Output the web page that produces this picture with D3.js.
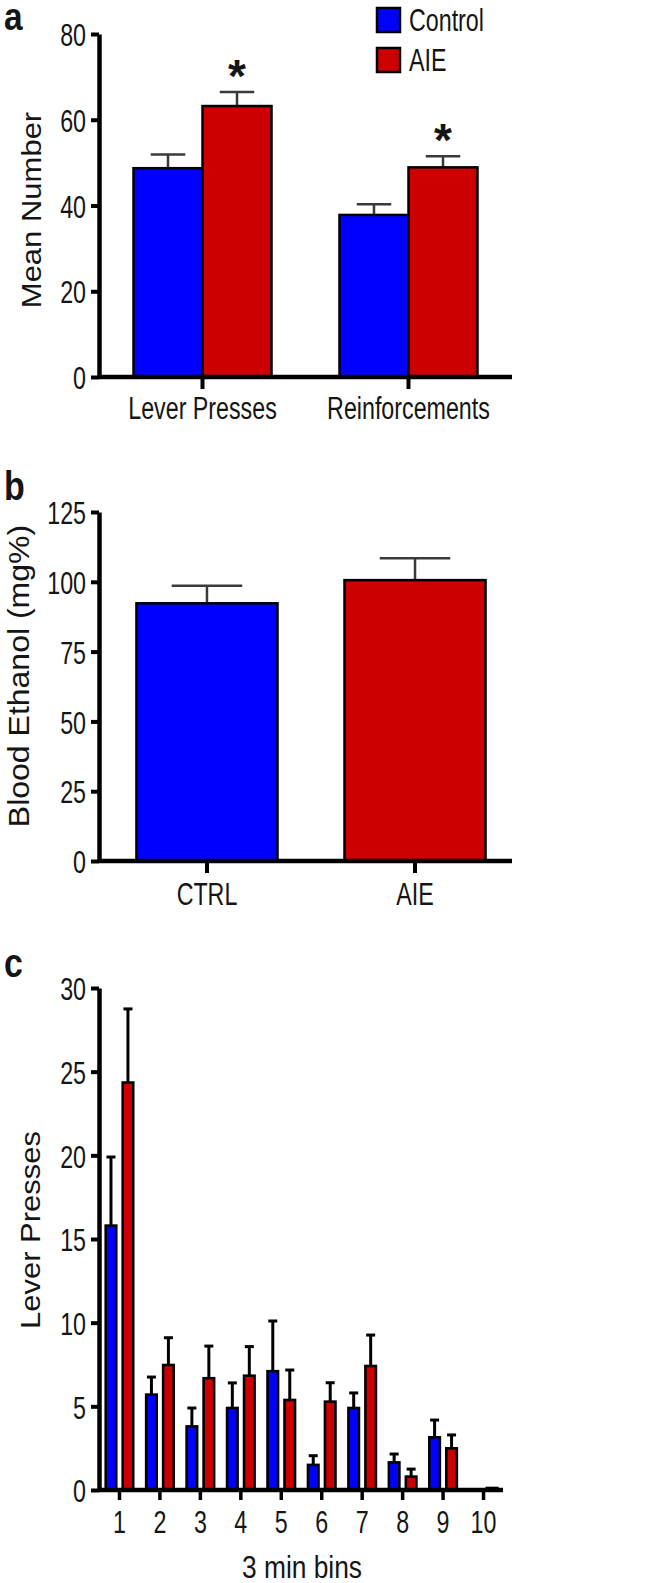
<!DOCTYPE html>
<html>
<head>
<meta charset="utf-8">
<script src="https://cdn.jsdelivr.net/npm/d3@7"></script>
<style>
  html, body { margin: 0; padding: 0; background: #fff; }
  svg { display: block; }
  text { font-family: "Liberation Sans", Arial, Helvetica, sans-serif; fill: #151515; }
</style>
</head>
<body>
<svg id="chart" width="650" height="1583"></svg>
<script>
// ---------- DATA ----------
const seriesNames = ["Control", "AIE"];
const seriesColors = ["#0000fe", "#cc0000"];

// Panel a
const aCategories = ["Lever Presses", "Reinforcements"];
const aControl = [48.7, 37.8];
const aControlErr = [3.2, 2.5];
const aAIE = [63.2, 48.9];
const aAIEErr = [3.3, 2.6];
const aSignificant = [true, true];
const aTicks = [0, 20, 40, 60, 80];

// Panel b
const bCategories = ["CTRL", "AIE"];
const bValues = [92.3, 100.6];
const bErr = [6.3, 7.8];
const bTicks = [0, 25, 50, 75, 100, 125];

// Panel c
const cBins = ["1", "2", "3", "4", "5", "6", "7", "8", "9", "10"];
const cControl = [15.8, 5.7, 3.8, 4.9, 7.1, 1.5, 4.9, 1.65, 3.15, 0];
const cControlErr = [4.1, 1.05, 1.1, 1.5, 3.0, 0.55, 0.9, 0.5, 1.03, 0];
const cAIE = [24.35, 7.47, 6.68, 6.83, 5.38, 5.28, 7.41, 0.8, 2.49, 0.12];
const cAIEErr = [4.4, 1.63, 1.92, 1.74, 1.79, 1.13, 1.85, 0.45, 0.8, 0];
const cTicks = [0, 5, 10, 15, 20, 25, 30];

// ---------- HELPERS ----------
const svg = d3.select("#chart");
const FS = 31;    // upright text size
const SX = 0.75;  // horizontal condensing of upright text

function condensedText(sel, x, y, str, size, anchor, weight, sx) {
  return sel.append("text")
    .attr("transform", `translate(${x},${y}) scale(${sx || SX},1)`)
    .attr("text-anchor", anchor || "start")
    .style("font-size", size + "px")
    .style("font-weight", weight || "normal")
    .text(str);
}

function yAxis(g, y, ticks, axisX) {
  const ax = g.append("g").attr("transform", `translate(${axisX},0)`)
    .call(d3.axisLeft(y).tickValues(ticks).tickSize(8).tickSizeOuter(0).tickFormat(d3.format("d")));
  ax.select(".domain").attr("stroke", "#000").attr("stroke-width", 4.5);
  ax.selectAll(".tick line").attr("stroke", "#000").attr("stroke-width", 4);
  ax.selectAll(".tick text")
    .attr("x", null).attr("dy", null)
    .attr("transform", `translate(-13,1) scale(${SX},1)`)
    .attr("dominant-baseline", "central")
    .style("font-size", FS + "px").style("font-family", '"Liberation Sans", Arial, sans-serif')
    .attr("fill", "#151515");
  return ax;
}

function xAxis(g, x, y0, lineStart, lineEnd, tickLen, labelOffset, tickW) {
  const ax = g.append("g").attr("transform", `translate(0,${y0})`)
    .call(d3.axisBottom(x).tickSize(tickLen).tickSizeOuter(0));
  ax.select(".domain").remove();
  ax.selectAll(".tick line").attr("stroke", "#000").attr("stroke-width", tickW);
  ax.selectAll(".tick text")
    .attr("y", null).attr("dy", null)
    .attr("transform", `translate(0,${labelOffset}) scale(${SX},1)`)
    .style("font-size", FS + "px").style("font-family", '"Liberation Sans", Arial, sans-serif')
    .attr("fill", "#151515");
  ax.append("line").attr("x1", lineStart).attr("x2", lineEnd).attr("y1", 0).attr("y2", 0)
    .attr("stroke", "#000").attr("stroke-width", 4.5);
  return ax;
}

function yTitle(g, x, y, str, size) {
  g.append("text")
    .attr("transform", `translate(${x},${y}) rotate(-90) scale(1,0.9)`)
    .attr("text-anchor", "middle")
    .style("font-size", size + "px")
    .text(str);
}

// ---------- PANEL A ----------
(function () {
  const g = svg.append("g");
  const axisX = 99;
  const y = d3.scaleLinear().domain([0, 80]).range([377, 34]);
  const x0 = d3.scaleBand().domain(aCategories).range([99, 512]).paddingInner(0.33).paddingOuter(0.1675);
  const x1 = d3.scaleBand().domain(seriesNames).range([0, x0.bandwidth()]).padding(0);
  const data = aCategories.map((c, i) => ({
    cat: c,
    vals: [
      { s: "Control", v: aControl[i], e: aControlErr[i] },
      { s: "AIE", v: aAIE[i], e: aAIEErr[i] }
    ]
  }));
  const grp = g.selectAll(".grp").data(data).join("g").attr("transform", d => `translate(${x0(d.cat)},0)`);
  grp.selectAll(".err").data(d => d.vals).join("g").each(function (d) {
    const cx = x1(d.s) + x1.bandwidth() / 2;
    const cw = x1.bandwidth() / 2;
    const s = d3.select(this);
    s.append("line").attr("x1", cx).attr("x2", cx).attr("y1", y(d.v)).attr("y2", y(d.v + d.e))
      .attr("stroke", "#3a3a3a").attr("stroke-width", 2.5);
    s.append("line").attr("x1", cx - cw / 2).attr("x2", cx + cw / 2).attr("y1", y(d.v + d.e)).attr("y2", y(d.v + d.e))
      .attr("stroke", "#3a3a3a").attr("stroke-width", 2.5);
  });
  grp.selectAll("rect").data(d => d.vals).join("rect")
    .attr("x", d => x1(d.s)).attr("width", x1.bandwidth())
    .attr("y", d => y(d.v)).attr("height", d => y(0) - y(d.v))
    .attr("fill", (d, i) => seriesColors[i]).attr("stroke", "#000").attr("stroke-width", 2.5);
  data.forEach((d, i) => {
    if (!aSignificant[i]) return;
    const v = d.vals[1];
    g.append("text")
      .attr("x", x0(d.cat) + x1("AIE") + x1.bandwidth() / 2)
      .attr("y", y(v.v + v.e) + 0)
      .attr("text-anchor", "middle")
      .style("font-size", "46px").style("font-weight", "bold")
      .text("*");
  });
  yAxis(g, y, aTicks, axisX);
  xAxis(g, x0, y(0), axisX, 512, 12, 42, 4);
  yTitle(g, 41, 210, "Mean Number", 31);
  seriesNames.forEach((s, i) => {
    const ly = 8 + i * 40;
    g.append("rect").attr("x", 377).attr("y", ly).attr("width", 23).attr("height", 24)
      .attr("fill", seriesColors[i]).attr("stroke", "#000").attr("stroke-width", 2.5);
    condensedText(g, 409, ly + 23, s, FS, "start");
  });
  condensedText(g, 4, 30, "a", 38, "start", "bold", 0.88);
})();

// ---------- PANEL B ----------
(function () {
  const g = svg.append("g");
  const axisX = 99;
  const y = d3.scaleLinear().domain([0, 125]).range([861, 512]);
  const x = d3.scaleBand().domain(bCategories).range([99, 523]).paddingInner(0.322).paddingOuter(0.18);
  const data = bCategories.map((c, i) => ({ cat: c, v: bValues[i], e: bErr[i], color: seriesColors[i] }));
  data.forEach(d => {
    const cx = x(d.cat) + x.bandwidth() / 2;
    const cw = x.bandwidth() / 2;
    g.append("line").attr("x1", cx).attr("x2", cx).attr("y1", y(d.v)).attr("y2", y(d.v + d.e))
      .attr("stroke", "#3a3a3a").attr("stroke-width", 2.5);
    g.append("line").attr("x1", cx - cw / 2).attr("x2", cx + cw / 2).attr("y1", y(d.v + d.e)).attr("y2", y(d.v + d.e))
      .attr("stroke", "#3a3a3a").attr("stroke-width", 2.5);
  });
  g.selectAll("rect").data(data).join("rect")
    .attr("x", d => x(d.cat)).attr("width", x.bandwidth())
    .attr("y", d => y(d.v)).attr("height", d => y(0) - y(d.v))
    .attr("fill", d => d.color).attr("stroke", "#000").attr("stroke-width", 2.5);
  yAxis(g, y, bTicks, axisX);
  xAxis(g, x, y(0), axisX, 512, 12, 44, 4);
  yTitle(g, 29, 676, "Blood Ethanol (mg%)", 32);
  condensedText(g, 4, 500, "b", 40, "start", "bold", 0.85);
})();

// ---------- PANEL C ----------
(function () {
  const g = svg.append("g");
  const axisX = 99;
  const y = d3.scaleLinear().domain([0, 30]).range([1490, 988]);
  const x0 = d3.scaleBand().domain(cBins).range([99, 504]).paddingInner(0.32).paddingOuter(0.166);
  const x1 = d3.scaleBand().domain(seriesNames).range([0, x0.bandwidth()]).paddingInner(0.38);
  const data = cBins.map((b, i) => ({
    bin: b,
    vals: [
      { s: "Control", v: cControl[i], e: cControlErr[i] },
      { s: "AIE", v: cAIE[i], e: cAIEErr[i] }
    ]
  }));
  const grp = g.selectAll(".grp").data(data).join("g").attr("transform", d => `translate(${x0(d.bin)},0)`);
  grp.selectAll(".err").data(d => d.vals.filter(v => v.e > 0)).join("g").each(function (d) {
    const cx = x1(d.s) + x1.bandwidth() / 2;
    const s = d3.select(this);
    s.append("line").attr("x1", cx).attr("x2", cx).attr("y1", y(d.v)).attr("y2", y(d.v + d.e))
      .attr("stroke", "#000").attr("stroke-width", 3);
    s.append("line").attr("x1", cx - 4.5).attr("x2", cx + 4.5).attr("y1", y(d.v + d.e)).attr("y2", y(d.v + d.e))
      .attr("stroke", "#000").attr("stroke-width", 3);
  });
  grp.selectAll("rect").data(d => d.vals).join("rect")
    .attr("x", d => x1(d.s)).attr("width", x1.bandwidth())
    .attr("y", d => y(d.v)).attr("height", d => y(0) - y(d.v))
    .attr("fill", (d, i) => seriesColors[i]).attr("stroke", "#000").attr("stroke-width", 2.6);
  yAxis(g, y, cTicks, axisX);
  xAxis(g, x0, y(0), axisX, 503, 10, 43, 3.5);
  yTitle(g, 40, 1230, "Lever Presses", 31);
  condensedText(g, 302, 1578, "3 min bins", FS, "middle", "normal", 0.85);
  condensedText(g, 4, 977, "c", 40, "start", "bold", 0.85);
})();
</script>
</body>
</html>
